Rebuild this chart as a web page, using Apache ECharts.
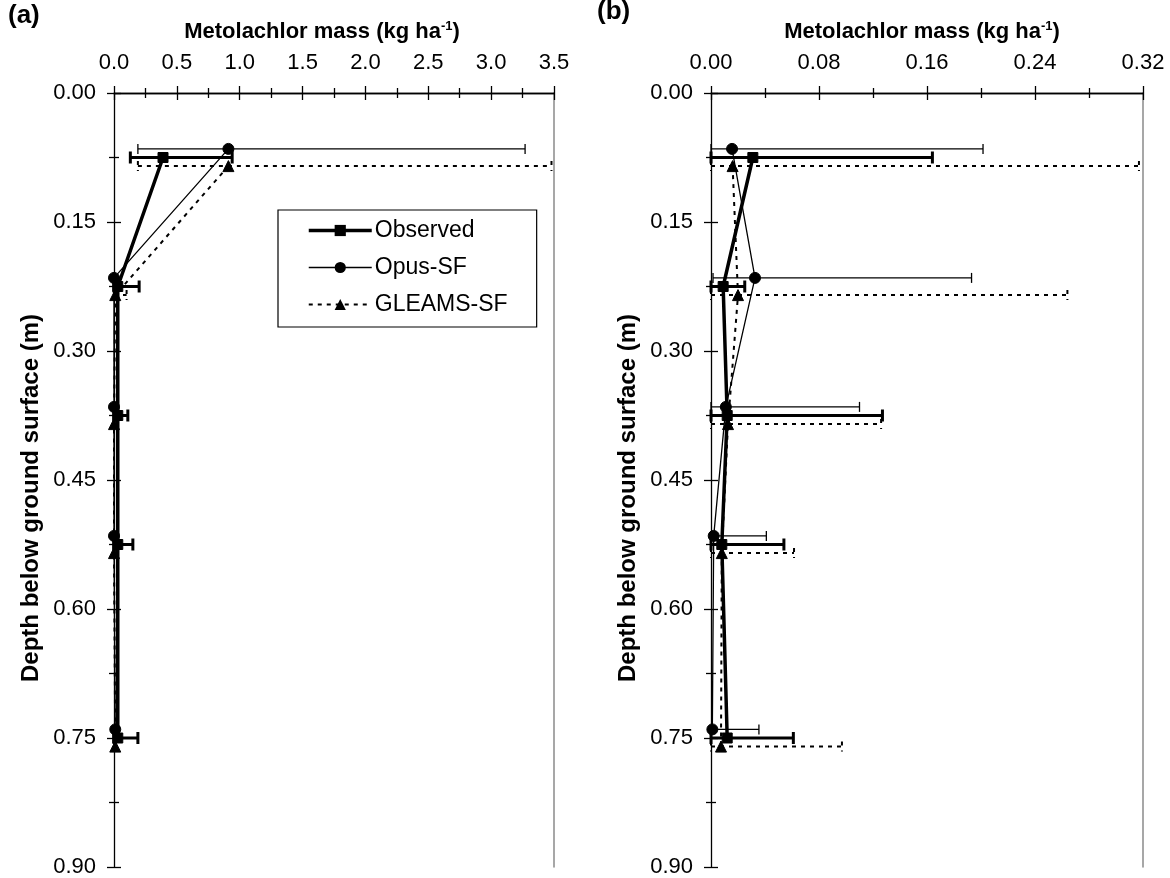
<!DOCTYPE html>
<html>
<head>
<meta charset="utf-8">
<script src="https://cdn.jsdelivr.net/npm/echarts@6/dist/echarts.min.js"></script>
<style>
  html, body { margin: 0; padding: 0; background: #fff; }
  #chart { width: 1170px; height: 878px; }
</style>
</head>
<body>
<div id="chart"></div>
<script>
// Sampling depths (m); model depths are nudged slightly so overlapping markers stay visible
const depthObs    = [0.075, 0.225, 0.375, 0.525, 0.75];
const depthOpus   = [0.065, 0.215, 0.365, 0.515, 0.74];
const depthGleams = [0.085, 0.235, 0.385, 0.535, 0.76];

// Panel (a): metolachlor mass (kg/ha) with error-bar ranges
const obsA        = [0.39, 0.03, 0.03, 0.03, 0.03];
const obsLowA     = [0.13, 0, 0, 0, 0];
const obsHighA    = [0.94, 0.20, 0.11, 0.15, 0.19];
const opusA       = [0.91, 0.00, 0.00, 0.00, 0.01];
const opusLowA    = [0.19, null, null, null, null];
const opusHighA   = [3.27, null, null, null, null];
const gleamsA     = [0.91, 0.01, 0.00, 0.00, 0.01];
const gleamsLowA  = [0.19, 0, null, null, null];
const gleamsHighA = [3.48, 0.10, null, null, null];

// Panel (b)
const obsB        = [0.031, 0.009, 0.012, 0.008, 0.012];
const obsLowB     = [0, 0, 0, 0, 0];
const obsHighB    = [0.164, 0.025, 0.127, 0.054, 0.061];
const opusB       = [0.0156, 0.0326, 0.011, 0.002, 0.001];
const opusLowB    = [0, 0.0015, 0, 0, 0];
const opusHighB   = [0.2015, 0.193, 0.110, 0.041, 0.0355];
const gleamsB     = [0.016, 0.020, 0.0126, 0.008, 0.0074];
const gleamsLowB  = [0, 0, 0, 0, 0];
const gleamsHighB = [0.317, 0.264, 0.126, 0.0615, 0.097];

// Axis scales and tick labels
const xMaxA = 3.5, xStepA = 0.5, xDigitsA = 1;
const xMaxB = 0.32, xStepB = 0.08, xDigitsB = 2;
const yMax = 0.90, yStep = 0.15, yDigits = 2;

const seriesNames = ['Observed', 'Opus-SF', 'GLEAMS-SF'];
const xTitle = 'Metolachlor mass (kg ha';
const xTitleSup = '-1';
const yTitle = 'Depth below ground surface (m)';
const panelTags = ['(a)', '(b)'];

const FONT = "'Liberation Sans', Arial, sans-serif";
const BLACK = '#000';

const chart = echarts.init(document.getElementById('chart'), null, { renderer: 'canvas' });

function zip(xs, ys) { return xs.map((v, i) => [v, ys[i]]); }
function ranges(lo, hi, ys) {
  const out = [];
  lo.forEach((l, i) => { if (l !== null && hi[i] !== null) out.push([l, hi[i], ys[i]]); });
  return out;
}

const styles = {
  'Observed':  { symbol: 'rect',     size: 10, width: 3.5, type: 'solid',  errWidth: 3,   errDash: null,   capLen: 6 },
  'Opus-SF':   { symbol: 'circle',   size: 11, width: 1.3, type: 'solid',  errWidth: 1.3, errDash: null,   capLen: 5 },
  'GLEAMS-SF': { symbol: 'triangle', size: 11, width: 2,   type: [4, 5],   errWidth: 2,   errDash: [4, 5], capLen: 5 }
};

function errorSeries(name, data, gi) {
  const s = styles[name];
  return {
    type: 'custom',
    name: name + ' range',
    xAxisIndex: gi * 2,
    yAxisIndex: gi * 3,
    z: 1,
    silent: true,
    encode: { x: [0, 1], y: 2 },
    data: data,
    renderItem: function (params, api) {
      const d = api.value(2);
      const p1 = api.coord([api.value(0), d]);
      const p2 = api.coord([api.value(1), d]);
      const st = { stroke: BLACK, lineWidth: s.errWidth, lineDash: s.errDash };
      return {
        type: 'group',
        children: [
          { type: 'line', shape: { x1: p1[0], y1: p1[1], x2: p2[0], y2: p2[1] }, style: st },
          { type: 'line', shape: { x1: p1[0], y1: p1[1] - s.capLen, x2: p1[0], y2: p1[1] + s.capLen }, style: st },
          { type: 'line', shape: { x1: p2[0], y1: p2[1] - s.capLen, x2: p2[0], y2: p2[1] + s.capLen }, style: st }
        ]
      };
    }
  };
}

function lineSeries(name, data, gi) {
  const s = styles[name];
  return {
    type: 'line',
    name: name,
    xAxisIndex: gi * 2,
    yAxisIndex: gi * 3,
    z: 3,
    data: data,
    symbol: s.symbol,
    symbolSize: s.size,
    showAllSymbol: true,
    itemStyle: { color: BLACK, borderColor: BLACK },
    lineStyle: { color: BLACK, width: s.width, type: s.type },
    emphasis: { disabled: true }
  };
}

function xAxes(gi, max, step, digits) {
  const base = {
    type: 'value', gridIndex: gi, position: 'top', min: 0, max: max, interval: step,
    splitLine: { show: false },
    axisLine: { show: true, onZero: false, lineStyle: { color: BLACK, width: 1.3 } }
  };
  return [
    Object.assign({}, base, {
      axisTick: { show: true, inside: false, length: 7, lineStyle: { color: BLACK, width: 1.3 } },
      minorTick: { show: true, splitNumber: 2, length: 5, lineStyle: { color: BLACK, width: 1.3 } },
      axisLabel: { show: true, margin: 19, color: BLACK, fontFamily: FONT, fontSize: 22,
        formatter: v => v.toFixed(digits) }
    }),
    Object.assign({}, base, {
      axisTick: { show: true, inside: true, length: 7, lineStyle: { color: BLACK, width: 1.3 } },
      minorTick: { show: true, splitNumber: 2, length: 5, lineStyle: { color: BLACK, width: 1.3 } },
      axisLabel: { show: false }
    })
  ];
}

function yAxes(gi) {
  const base = {
    type: 'value', gridIndex: gi, inverse: true, min: 0, max: yMax, interval: yStep,
    splitLine: { show: false }
  };
  return [
    Object.assign({}, base, {
      position: 'left',
      axisLine: { show: true, onZero: false, lineStyle: { color: BLACK, width: 1.3 } },
      axisTick: { show: true, inside: false, length: 7, lineStyle: { color: BLACK, width: 1.3 } },
      minorTick: { show: true, splitNumber: 2, length: 5, lineStyle: { color: BLACK, width: 1.3 } },
      axisLabel: { show: true, margin: 18, color: BLACK, fontFamily: FONT, fontSize: 22,
        formatter: v => v.toFixed(yDigits) }
    }),
    Object.assign({}, base, {
      position: 'left',
      axisLine: { show: false, onZero: false },
      axisTick: { show: true, inside: true, length: 7, lineStyle: { color: BLACK, width: 1.3 } },
      minorTick: { show: true, splitNumber: 2, length: 5, lineStyle: { color: BLACK, width: 1.3 } },
      axisLabel: { show: false }
    }),
    Object.assign({}, base, {
      position: 'right',
      axisLine: { show: true, onZero: false, lineStyle: { color: '#8a8a8a', width: 1.5 } },
      axisTick: { show: false },
      axisLabel: { show: false }
    })
  ];
}

function titleText(cx, cy) {
  return {
    type: 'text', x: cx, y: cy, silent: true,
    style: {
      text: '{t|' + xTitle + '}{s|' + xTitleSup + '}{t|)}',
      align: 'center', verticalAlign: 'middle',
      rich: {
        t: { fontFamily: FONT, fontWeight: 'bold', fontSize: 22, fill: BLACK },
        s: { fontFamily: FONT, fontWeight: 'bold', fontSize: 13, fill: BLACK, padding: [0, 0, 11, 0] }
      }
    }
  };
}

function yTitleText(cx, cy) {
  return {
    type: 'text', x: cx, y: cy, rotation: Math.PI / 2, silent: true,
    style: { text: yTitle, align: 'center', verticalAlign: 'middle',
      fontFamily: FONT, fontWeight: 'bold', fontSize: 24, fill: BLACK }
  };
}

function tagText(x, y, t) {
  return {
    type: 'text', x: x, y: y, silent: true,
    style: { text: t, fontFamily: FONT, fontWeight: 'bold', fontSize: 26, fill: BLACK }
  };
}

const option = {
  animation: false,
  backgroundColor: '#fff',
  grid: [
    { left: 114, top: 93, width: 440, height: 774 },
    { left: 711, top: 93, width: 432, height: 774 }
  ],
  xAxis: [].concat(xAxes(0, xMaxA, xStepA, xDigitsA), xAxes(1, xMaxB, xStepB, xDigitsB)),
  yAxis: [].concat(yAxes(0), yAxes(1)),
  legend: {
    data: seriesNames.map(n => ({
      name: n,
      lineStyle: { color: BLACK, width: styles[n].width, type: styles[n].type }
    })),
    orient: 'vertical',
    left: 278, top: 210,
    padding: [9, 29, 11, 29],
    itemWidth: 63, itemHeight: 14, itemGap: 14,
    backgroundColor: '#fff',
    borderColor: BLACK, borderWidth: 1.2, borderRadius: 0,
    selectedMode: false,
    textStyle: { fontFamily: FONT, fontSize: 23, color: BLACK, padding: [0, 0, 0, -2] }
  },
  graphic: [
    titleText(322, 32), titleText(922, 32),
    yTitleText(31, 498), yTitleText(628, 498),
    tagText(8, 3, panelTags[0]), tagText(597, -1, panelTags[1])
  ],
  series: [
    errorSeries('Observed',  ranges(obsLowA, obsHighA, depthObs), 0),
    errorSeries('Opus-SF',   ranges(opusLowA, opusHighA, depthOpus), 0),
    errorSeries('GLEAMS-SF', ranges(gleamsLowA, gleamsHighA, depthGleams), 0),
    lineSeries('Observed',  zip(obsA, depthObs), 0),
    lineSeries('Opus-SF',   zip(opusA, depthOpus), 0),
    lineSeries('GLEAMS-SF', zip(gleamsA, depthGleams), 0),
    errorSeries('Observed',  ranges(obsLowB, obsHighB, depthObs), 1),
    errorSeries('Opus-SF',   ranges(opusLowB, opusHighB, depthOpus), 1),
    errorSeries('GLEAMS-SF', ranges(gleamsLowB, gleamsHighB, depthGleams), 1),
    lineSeries('Observed',  zip(obsB, depthObs), 1),
    lineSeries('Opus-SF',   zip(opusB, depthOpus), 1),
    lineSeries('GLEAMS-SF', zip(gleamsB, depthGleams), 1)
  ]
};

chart.setOption(option);
</script>
</body>
</html>
